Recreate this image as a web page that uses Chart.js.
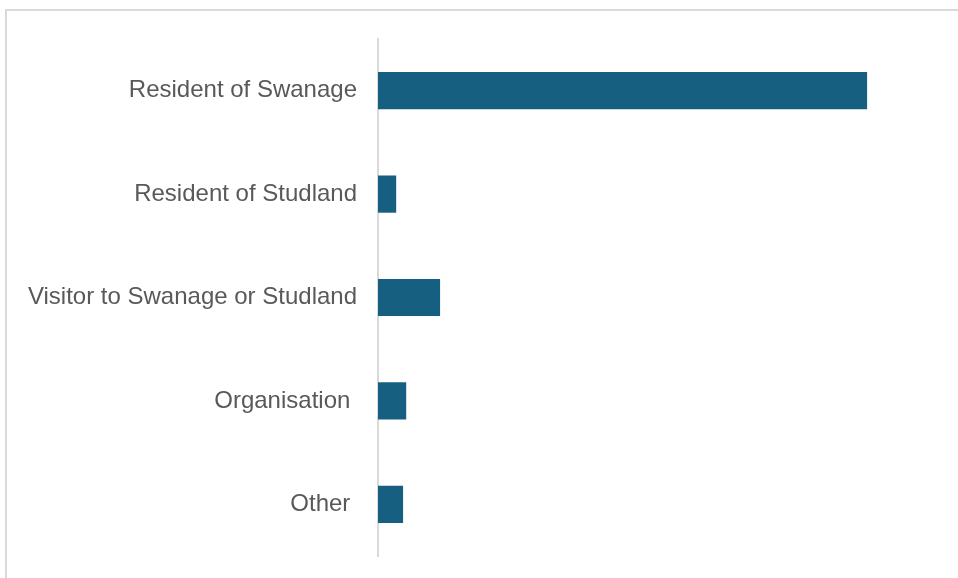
<!DOCTYPE html>
<html>
<head>
<meta charset="utf-8">
<script src="https://cdn.jsdelivr.net/npm/chart.js@4/dist/chart.umd.min.js"></script>
<style>
  html, body { margin: 0; padding: 0; background: #fff; overflow: hidden; }
  #wrap { position: relative; width: 958px; height: 578px; }
  #frame {
    position: absolute; left: 5px; top: 9px; width: 1000px; height: 600px;
    border-left: 2px solid #d9d9d9; border-top: 2px solid #d9d9d9;
  }
  canvas { position: absolute; left: 0; top: 0; }
</style>
</head>
<body>
<div id="wrap">
  <div id="frame"></div>
  <canvas id="myChart" width="958" height="578"></canvas>
</div>
<script>
// respondent type, share of responses (%)
const categories = [
  'Resident of Swanage',
  'Resident of Studland',
  'Visitor to Swanage or Studland',
  'Organisation ',
  'Other '
];
const values = [78, 2.9, 9.9, 4.5, 4.0];
const xMax = 85;

new Chart(document.getElementById('myChart'), {
  type: 'bar',
  data: {
    labels: categories,
    datasets: [{
      data: values,
      backgroundColor: '#175f80',
      borderWidth: 0,
      barPercentage: 0.36,
      categoryPercentage: 1.0,
    }]
  },
  options: {
    indexAxis: 'y',
    responsive: false,
    animation: false,
    layout: { padding: { top: 39, bottom: 22, right: 47, left: 0 } },
    plugins: {
      legend: { display: false },
      tooltip: { enabled: false },
    },
    scales: {
      x: {
        min: 0,
        max: xMax,
        display: false,
      },
      y: {
        afterFit: function (scale) {
          scale.width = 378;
          scale.paddingTop = 0;
          scale.paddingBottom = 0;
        },
        grid: { display: false, drawTicks: false },
        border: { display: true, color: '#d9d9d9', width: 2 },
        ticks: {
          color: '#595959',
          padding: 21,
          font: { family: 'Liberation Sans, Arial, sans-serif', size: 24 },
        },
      }
    }
  }
});
</script>
</body>
</html>
